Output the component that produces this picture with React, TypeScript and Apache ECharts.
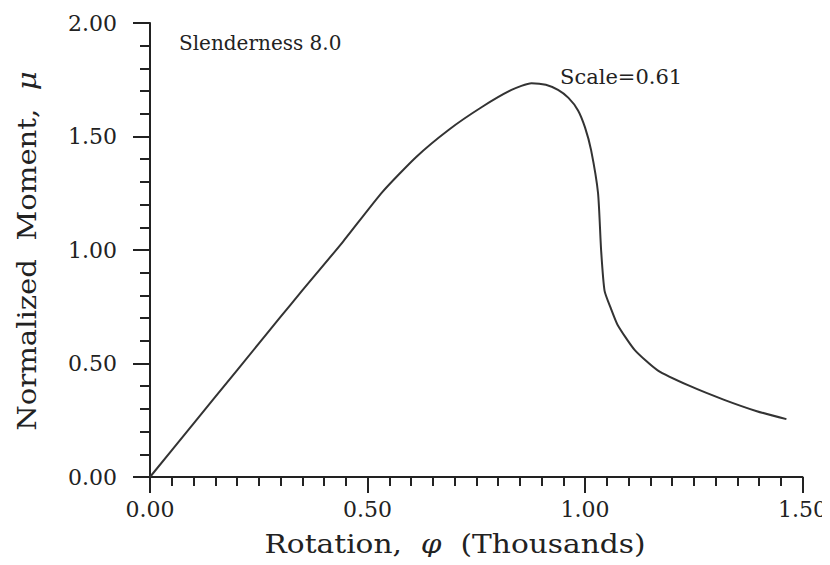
import React, { useEffect, useRef } from "react";
import * as echarts from "echarts";

const rotation: number[] = [0, 0.1, 0.2, 0.3, 0.345, 0.443, 0.534, 0.612, 0.687, 0.763, 0.831, 0.877, 0.91, 0.938, 0.962, 0.984, 1.0, 1.014, 1.03, 1.037, 1.045, 1.06, 1.075, 1.114, 1.167, 1.242, 1.32, 1.395, 1.463];
const moment: number[] = [0, 0.235, 0.47, 0.705, 0.81, 1.035, 1.255, 1.41, 1.53, 1.63, 1.705, 1.735, 1.728, 1.705, 1.67, 1.615, 1.54, 1.44, 1.25, 1.0, 0.82, 0.74, 0.67, 0.56, 0.47, 0.4, 0.34, 0.29, 0.255];

const xTicks = { min: 0, max: 1.5, interval: 0.5 };
const yTicks = { min: 0, max: 2, interval: 0.5 };

const annotations = { slenderness: "Slenderness\u00a08.0", scale: "Scale=0.61" };
const xTitle = ["Rotation,", "φ", "(Thousands)"];
const yTitle = ["Normalized\u00a0\u00a0Moment,", "μ"];

const FONT = "'DejaVu Serif', 'Liberation Serif', serif";
const INK = "#222";
const GAP = "\u00a0\u00a0";

export default function App() {
  const ref = useRef<HTMLDivElement>(null);
  useEffect(() => {
    if (!ref.current) return;
    const chart = echarts.init(ref.current, null, { renderer: "svg" });
    const axisCommon = {
      axisLine: { show: true, lineStyle: { color: INK, width: 2 } },
      splitLine: { show: false },
      minorSplitLine: { show: false },
    };
    const rich = {
      n: { fontFamily: FONT, fontSize: 26, fill: INK },
      i: { fontFamily: FONT, fontSize: 26, fontStyle: "italic", fill: INK },
    };
    chart.setOption({
      animation: false,
      backgroundColor: "#fff",
      grid: { left: 150, right: 24, top: 23, bottom: 88, containLabel: false },
      xAxis: {
        type: "value",
        ...xTicks,
        ...axisCommon,
        axisTick: { show: true, length: 16, lineStyle: { color: INK, width: 2 } },
        minorTick: { show: true, splitNumber: 10, length: 9, lineStyle: { color: INK, width: 2 } },
        axisLabel: {
          margin: 21,
          color: INK,
          fontFamily: FONT,
          fontSize: 22,
          formatter: (v: number) => v.toFixed(2),
        },
      },
      yAxis: {
        type: "value",
        ...yTicks,
        ...axisCommon,
        axisTick: { show: true, length: 17, lineStyle: { color: INK, width: 2 } },
        minorTick: { show: true, splitNumber: 5, length: 10, lineStyle: { color: INK, width: 2 } },
        axisLabel: {
          margin: 33,
          color: INK,
          fontFamily: FONT,
          fontSize: 22,
          formatter: (v: number) => v.toFixed(2),
        },
      },
      series: [
        {
          type: "line",
          data: rotation.map((x, i) => [x, moment[i]]),
          showSymbol: false,
          smooth: 0.2,
          lineStyle: { color: "#333", width: 2 },
        },
      ],
      graphic: [
        {
          type: "text",
          x: 179,
          y: 43,
          style: { text: annotations.slenderness, font: `20px ${FONT}`, fill: INK, verticalAlign: "middle" },
        },
        {
          type: "text",
          x: 560,
          y: 77,
          style: { text: annotations.scale, font: `21px ${FONT}`, fill: INK, verticalAlign: "middle" },
        },
        {
          type: "text",
          x: 455,
          y: 544,
          scaleX: 1.14,
          style: {
            text: `{n|${xTitle[0]}${GAP}}{i|${xTitle[1]}}{n|${GAP}${xTitle[2]}}`,
            align: "center",
            verticalAlign: "middle",
            fill: INK,
            rich,
          },
        },
        {
          type: "text",
          x: 27,
          y: 251,
          rotation: Math.PI / 2,
          scaleX: 1.12,
          style: {
            text: `{n|${yTitle[0]}${GAP}}{i|${yTitle[1]}}`,
            align: "center",
            verticalAlign: "middle",
            fill: INK,
            rich,
          },
        },
      ],
    });
    return () => chart.dispose();
  }, []);
  return <div ref={ref} style={{ width: 830, height: 565, margin: -8 }} />;
}
